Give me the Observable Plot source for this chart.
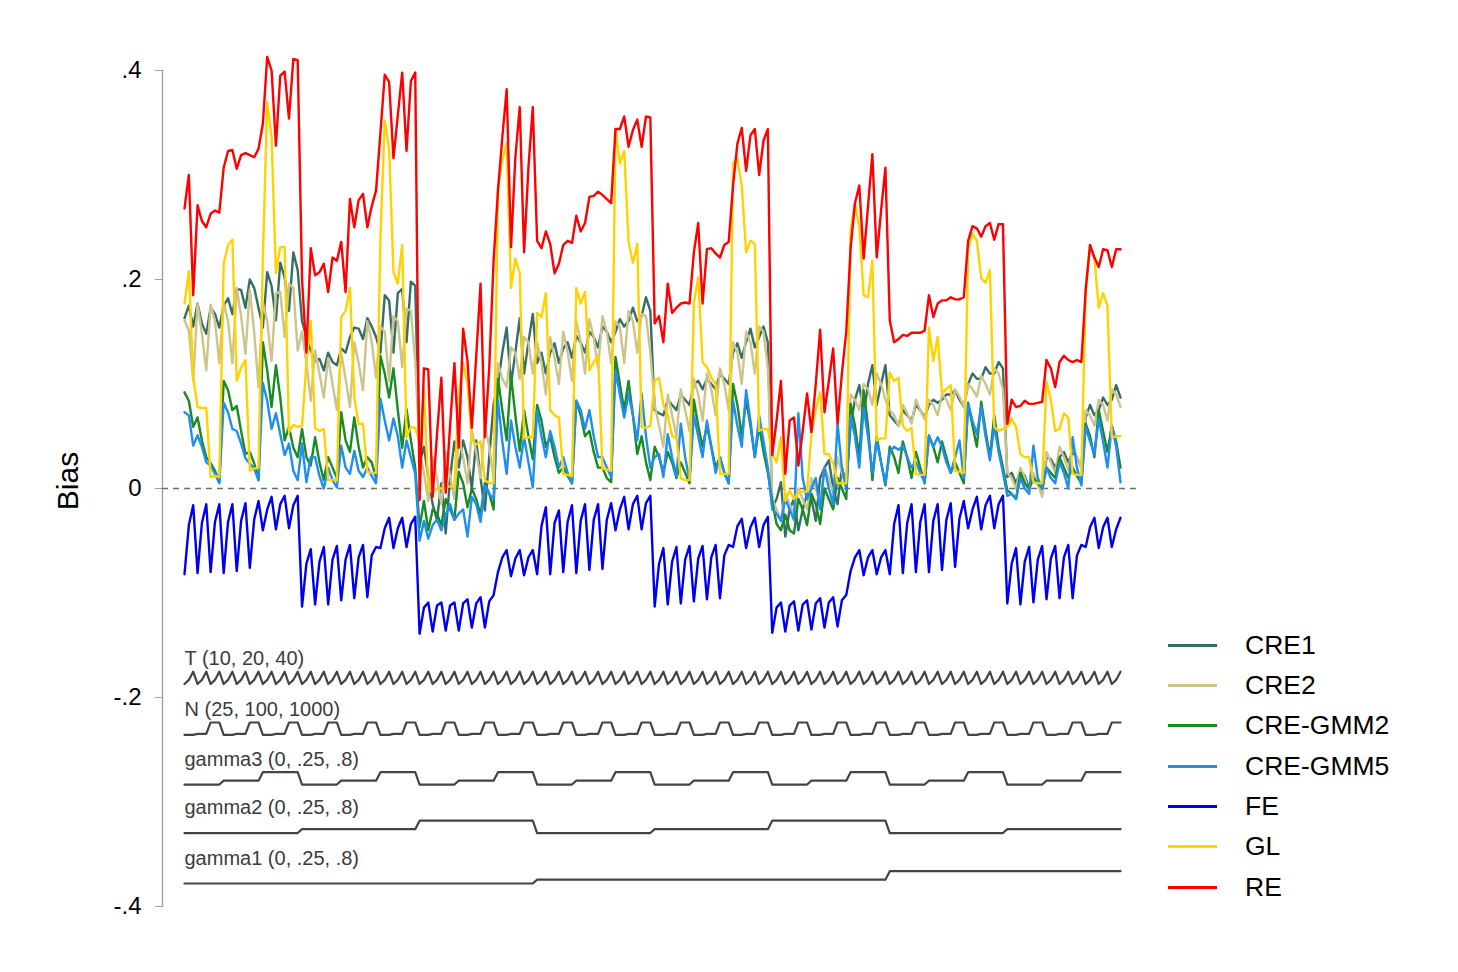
<!DOCTYPE html>
<html>
<head>
<meta charset="utf-8">
<script src="https://cdn.jsdelivr.net/npm/d3@7"></script>
<script src="https://cdn.jsdelivr.net/npm/@observablehq/plot@0.6"></script>
<style>
  body { margin: 0; background: #fff; font-family: "Liberation Sans", Arial, sans-serif; }
  #wrap { position: relative; width: 1458px; height: 972px; }
  .leg { position: absolute; left: 1168px; width: 300px; height: 30px; display: flex; align-items: center; }
  .leg .sw { width: 49px; height: 3px; }
  .leg .lb { margin-left: 28px; font-size: 26.5px; color: #000; }
  #ylab { position: absolute; left: 68px; top: 481px; transform: translate(-50%, -50%) rotate(-90deg);
          font-size: 30px; color: #000; white-space: nowrap; }
</style>
</head>
<body>
<div id="wrap"><div id="ylab">Bias</div></div>
<script>
// ---------- data ----------
const seriesNames = ["CRE1", "CRE2", "CRE-GMM2", "CRE-GMM5", "FE", "GL", "RE"];
const seriesColors = ["#356e66", "#cbc48b", "#1a8a22", "#1e8ef0", "#0000f0", "#ffd200", "#ff0000"];

const cre1 = [
 0.163,0.175,0.155, 0.177,0.158,0.148, 0.173,0.167,0.154, 0.175,0.182,0.167, 0.191,0.190,0.173, 0.200,0.192,0.173, 0.154,0.207,0.194, 0.161,0.216,0.202, 0.170,0.226,0.209,
 0.160,0.145,0.132, 0.122,0.124,0.113, 0.130,0.121,0.118, 0.134,0.130,0.145, 0.154,0.153,0.143, 0.163,0.155,0.145, 0.130,0.185,0.180, 0.130,0.187,0.191, 0.140,0.198,0.194,
 0.025,0.040,0.010, -0.015,-0.030,0.005, -0.043,0.010,0.045, 0.020,0.046,0.030, 0.000,0.046,0.010, -0.021,0.030,0.081, 0.100,0.130,0.154, 0.100,0.130,0.163, 0.110,0.140,0.167,
 0.120,0.130,0.110, 0.130,0.139,0.120, 0.134,0.140,0.125, 0.146,0.140,0.130, 0.150,0.145,0.135, 0.155,0.150,0.140, 0.150,0.162,0.155, 0.160,0.173,0.160, 0.165,0.183,0.170,
 0.075,0.072,0.070, 0.085,0.080,0.075, 0.090,0.085,0.080, 0.100,0.103,0.095, 0.105,0.100,0.095, 0.110,0.105,0.100, 0.130,0.139,0.125, 0.140,0.153,0.135, 0.145,0.155,0.140,
 -0.018,-0.010,0.006, -0.046,-0.020,-0.010, -0.040,-0.020,-0.005, -0.010,-0.031,0.010, 0.020,0.027,0.000, -0.015,0.020,0.005, 0.060,0.085,0.099, 0.070,0.100,0.118, 0.080,0.100,0.118,
 0.070,0.065,0.060, 0.075,0.070,0.065, 0.080,0.075,0.068, 0.080,0.085,0.082, 0.085,0.090,0.090, 0.094,0.085,0.078, 0.100,0.110,0.105, 0.105,0.116,0.110, 0.110,0.121,0.115,
 0.011,0.015,0.005, 0.017,0.012,0.000, 0.010,0.005,-0.005, 0.030,0.028,0.020, 0.030,0.035,0.025, 0.035,0.030,0.020, 0.068,0.080,0.070, 0.075,0.087,0.080, 0.085,0.099,0.087
];

const cre2 = [
 0.161,0.151,0.103, 0.177,0.148,0.113, 0.176,0.160,0.120, 0.178,0.160,0.120, 0.192,0.165,0.129, 0.190,0.150,0.097, 0.178,0.160,0.122, 0.187,0.188,0.145, 0.196,0.192,0.132,
 0.150,0.120,0.084, 0.132,0.110,0.087, 0.125,0.100,0.075, 0.130,0.105,0.078, 0.140,0.120,0.094, 0.160,0.140,0.106, 0.155,0.150,0.103, 0.165,0.160,0.116, 0.172,0.170,0.122,
 0.035,0.015,-0.012, 0.030,0.010,-0.015, 0.035,0.012,-0.010, 0.050,0.030,0.005, 0.055,0.035,0.010, 0.060,0.040,0.010, 0.120,0.105,0.097, 0.135,0.130,0.105, 0.145,0.140,0.110,
 0.140,0.120,0.090, 0.145,0.125,0.100, 0.150,0.130,0.103, 0.160,0.140,0.110, 0.162,0.145,0.115, 0.165,0.150,0.120, 0.160,0.155,0.120, 0.170,0.160,0.130, 0.167,0.165,0.130,
 0.080,0.060,0.040, 0.090,0.070,0.050, 0.095,0.075,0.055, 0.105,0.090,0.065, 0.110,0.095,0.070, 0.115,0.100,0.075, 0.140,0.130,0.100, 0.150,0.140,0.110, 0.155,0.150,0.115,
 -0.010,-0.020,-0.030, -0.005,-0.015,-0.025, 0.000,-0.010,-0.020, 0.010,0.000,-0.015, 0.020,0.010,-0.005, 0.030,0.015,0.000, 0.090,0.085,0.075, 0.100,0.095,0.080, 0.110,0.100,0.085,
 0.075,0.070,0.060, 0.080,0.072,0.062, 0.085,0.075,0.066, 0.085,0.080,0.070, 0.090,0.085,0.075, 0.095,0.088,0.078, 0.100,0.095,0.088, 0.108,0.100,0.090, 0.115,0.110,0.095,
 0.015,0.010,0.000, 0.020,0.010,-0.005, 0.015,0.005,-0.008, 0.035,0.025,0.015, 0.040,0.030,0.018, 0.040,0.030,0.020, 0.075,0.070,0.060, 0.085,0.080,0.065, 0.095,0.090,0.078
];

const creGmm2 = [
 0.092,0.084,0.059, 0.068,0.046,0.030, 0.024,0.017,0.006, 0.103,0.094,0.075, 0.079,0.055,0.033, 0.035,0.024,0.008, 0.140,0.113,0.078, 0.118,0.087,0.046, 0.059,0.039,0.030,
 0.057,0.030,0.022, 0.049,0.025,0.008, 0.030,0.020,0.010, 0.073,0.046,0.035, 0.068,0.040,0.020, 0.030,0.025,0.010, 0.127,0.110,0.087, 0.115,0.075,0.039, 0.076,0.046,0.020,
 -0.037,-0.012,-0.040, -0.020,-0.024,-0.035, -0.010,-0.020,-0.030, 0.016,0.005,-0.018, 0.000,-0.010,-0.025, 0.005,-0.005,-0.020, 0.105,0.075,0.046, 0.108,0.070,0.036, 0.075,0.050,0.028,
 0.080,0.065,0.040, 0.050,0.030,0.015, 0.020,0.012,0.005, 0.084,0.070,0.050, 0.055,0.035,0.020, 0.020,0.010,0.006, 0.126,0.100,0.075, 0.103,0.070,0.033, 0.050,0.025,0.008,
 0.040,0.030,0.015, 0.035,0.025,0.010, 0.025,0.015,0.005, 0.085,0.060,0.040, 0.060,0.040,0.020, 0.030,0.015,0.005, 0.100,0.080,0.050, 0.085,0.060,0.030, 0.060,0.035,0.015,
 -0.012,-0.034,-0.040, -0.025,-0.040,-0.043, -0.010,-0.020,-0.035, -0.005,-0.015,-0.034, 0.000,-0.010,-0.020, 0.010,0.000,-0.010, 0.081,0.060,0.030, 0.094,0.060,0.008, 0.050,0.025,0.003,
 0.040,0.030,0.015, 0.045,0.030,0.010, 0.035,0.020,0.005, 0.050,0.040,0.025, 0.045,0.030,0.015, 0.025,0.015,0.005, 0.082,0.060,0.040, 0.083,0.055,0.030, 0.070,0.040,0.020,
 -0.002,-0.005,-0.010, 0.015,0.005,0.000, 0.010,0.005,0.000, 0.020,0.015,0.010, 0.030,0.020,0.010, 0.020,0.012,0.005, 0.062,0.050,0.030, 0.075,0.055,0.035, 0.060,0.045,0.020
];

const creGmm5 = [
 0.073,0.070,0.041, 0.051,0.040,0.025, 0.022,0.014,0.005, 0.082,0.073,0.057, 0.055,0.043,0.029, 0.024,0.019,0.008, 0.101,0.084,0.057, 0.072,0.052,0.032, 0.043,0.017,0.008,
 0.043,0.006,0.030, 0.030,0.012,0.000, 0.020,0.008,0.001, 0.041,0.020,0.014, 0.036,0.017,0.011, 0.020,0.012,0.005, 0.086,0.065,0.046, 0.067,0.050,0.020, 0.046,0.030,0.014,
 -0.050,-0.031,-0.048, -0.035,-0.030,-0.040, -0.025,-0.015,-0.030, -0.024,-0.020,-0.046, -0.008,-0.015,-0.032, 0.003,-0.005,-0.010, 0.084,0.045,0.014, 0.065,0.040,0.020, 0.049,0.025,0.001,
 0.075,0.050,0.030, 0.055,0.040,0.020, 0.030,0.015,0.005, 0.084,0.075,0.057, 0.075,0.050,0.030, 0.030,0.020,0.011, 0.113,0.090,0.068, 0.091,0.070,0.046, 0.091,0.050,0.020,
 0.030,0.033,0.011, 0.052,0.030,0.012, 0.062,0.030,0.008, 0.070,0.050,0.030, 0.065,0.040,0.015, 0.030,0.015,0.005, 0.084,0.060,0.040, 0.094,0.065,0.030, 0.070,0.045,0.020,
 -0.020,-0.024,-0.031, -0.010,-0.020,-0.030, 0.072,0.010,-0.010, 0.000,0.010,-0.020, 0.020,0.000,-0.015, 0.062,0.020,0.000, 0.070,0.050,0.020, 0.077,0.050,0.015, 0.045,0.025,0.005,
 0.035,0.040,0.037, 0.041,0.030,0.020, 0.025,0.015,0.006, 0.051,0.040,0.049, 0.040,0.025,0.015, 0.030,0.046,0.010, 0.081,0.065,0.052, 0.078,0.050,0.027, 0.060,0.035,0.015,
 -0.007,-0.005,-0.010, 0.010,0.000,-0.005, 0.041,0.010,0.000, 0.020,0.010,0.005, 0.025,0.015,0.000, 0.049,0.020,0.003, 0.059,0.045,0.033, 0.067,0.045,0.020, 0.060,0.040,0.006
];

const fe = [
 -0.082,-0.035,-0.016, -0.081,-0.033,-0.015, -0.080,-0.032,-0.015, -0.081,-0.032,-0.015, -0.079,-0.031,-0.014, -0.076,-0.030,-0.012, -0.040,-0.020,-0.008, -0.039,-0.015,-0.007, -0.038,-0.016,-0.007,
 -0.113,-0.072,-0.058, -0.111,-0.070,-0.056, -0.111,-0.068,-0.055, -0.107,-0.068,-0.054, -0.105,-0.066,-0.054, -0.104,-0.064,-0.056, -0.057,-0.038,-0.028, -0.057,-0.038,-0.028, -0.056,-0.034,-0.027,
 -0.139,-0.114,-0.109, -0.137,-0.112,-0.109, -0.136,-0.112,-0.109, -0.136,-0.110,-0.106, -0.133,-0.110,-0.104, -0.133,-0.108,-0.102, -0.080,-0.066,-0.059, -0.084,-0.067,-0.059, -0.083,-0.066,-0.059,
 -0.082,-0.036,-0.018, -0.082,-0.033,-0.021, -0.080,-0.032,-0.016, -0.081,-0.031,-0.015, -0.078,-0.030,-0.015, -0.077,-0.030,-0.014, -0.040,-0.020,-0.008, -0.039,-0.015,-0.007, -0.039,-0.014,-0.007,
 -0.113,-0.072,-0.057, -0.111,-0.070,-0.056, -0.110,-0.068,-0.055, -0.108,-0.067,-0.055, -0.106,-0.066,-0.054, -0.105,-0.064,-0.054, -0.056,-0.036,-0.029, -0.057,-0.037,-0.028, -0.056,-0.035,-0.027,
 -0.138,-0.114,-0.109, -0.137,-0.112,-0.108, -0.136,-0.111,-0.107, -0.135,-0.110,-0.105, -0.133,-0.109,-0.104, -0.132,-0.107,-0.102, -0.079,-0.066,-0.059, -0.083,-0.066,-0.059, -0.082,-0.066,-0.059,
 -0.082,-0.034,-0.016, -0.081,-0.033,-0.015, -0.080,-0.032,-0.015, -0.080,-0.031,-0.015, -0.078,-0.030,-0.014, -0.075,-0.029,-0.012, -0.038,-0.020,-0.008, -0.039,-0.016,-0.007, -0.038,-0.015,-0.007,
 -0.110,-0.072,-0.057, -0.111,-0.070,-0.056, -0.109,-0.068,-0.055, -0.106,-0.067,-0.055, -0.105,-0.066,-0.054, -0.105,-0.064,-0.054, -0.056,-0.037,-0.028, -0.057,-0.037,-0.028, -0.056,-0.039,-0.028
];

const gl = [
 0.177,0.208,0.106, 0.078,0.077,0.077, 0.011,0.012,0.011, 0.215,0.233,0.238, 0.103,0.116,0.123, 0.017,0.019,0.020, 0.220,0.370,0.336, 0.206,0.231,0.231, 0.054,0.061,0.059,
 0.060,0.120,0.160, 0.058,0.055,0.057, 0.008,0.008,0.008, 0.164,0.170,0.192, 0.087,0.062,0.062, 0.016,0.015,0.015, 0.240,0.352,0.325, 0.207,0.196,0.233, 0.049,0.059,0.058,
 0.045,0.094,0.000, -0.003,0.000,0.000, 0.001,0.002,0.003, 0.090,0.120,0.100, 0.046,0.042,0.045, 0.008,0.005,0.005, 0.288,0.314,0.331, 0.192,0.220,0.206, 0.048,0.049,0.049,
 0.168,0.164,0.187, 0.075,0.070,0.068, 0.014,0.013,0.012, 0.192,0.177,0.188, 0.113,0.121,0.127, 0.019,0.018,0.017, 0.344,0.311,0.323, 0.236,0.216,0.234, 0.059,0.058,0.060,
 0.103,0.106,0.080, 0.070,0.050,0.049, 0.010,0.008,0.008, 0.177,0.202,0.121, 0.116,0.106,0.100, 0.014,0.014,0.014, 0.311,0.316,0.290, 0.226,0.237,0.234, 0.055,0.057,0.057,
 0.033,0.025,0.049, -0.012,-0.002,-0.010, -0.003,-0.003,-0.003, 0.052,0.075,0.092, 0.033,0.033,0.024, 0.005,0.005,0.005, 0.247,0.273,0.250, 0.185,0.183,0.218, 0.046,0.048,0.048,
 0.111,0.103,0.106, 0.060,0.055,0.058, 0.014,0.013,0.013, 0.154,0.122,0.145, 0.091,0.095,0.099, 0.017,0.016,0.015, 0.230,0.244,0.237, 0.201,0.197,0.209, 0.059,0.055,0.057,
 0.059,0.067,0.059, 0.033,0.030,0.030, 0.006,0.005,0.005, 0.102,0.085,0.055, 0.057,0.072,0.068, 0.014,0.013,0.013, 0.190,0.233,0.220, 0.173,0.187,0.175, 0.049,0.050,0.050
];

const re = [
 0.268,0.300,0.185, 0.271,0.256,0.250, 0.263,0.266,0.264, 0.307,0.323,0.324, 0.306,0.319,0.321, 0.319,0.317,0.325, 0.349,0.413,0.400, 0.328,0.395,0.399, 0.354,0.411,0.410,
 0.200,0.130,0.230, 0.204,0.207,0.215, 0.188,0.221,0.218, 0.236,0.188,0.277, 0.250,0.276,0.282, 0.250,0.270,0.285, 0.340,0.396,0.389, 0.316,0.357,0.398, 0.323,0.390,0.398,
 -0.011,0.115,0.114, -0.008,0.052,0.106, -0.004,0.060,0.120, 0.039,0.153,0.122, 0.058,0.126,0.196, 0.049,0.116,0.218, 0.285,0.336,0.382, 0.231,0.317,0.365, 0.226,0.307,0.365,
 0.237,0.230,0.246, 0.234,0.206,0.215, 0.233,0.237,0.235, 0.261,0.246,0.254, 0.279,0.280,0.284, 0.281,0.277,0.273, 0.344,0.344,0.356, 0.327,0.343,0.353, 0.327,0.356,0.355,
 0.158,0.165,0.140, 0.196,0.168,0.173, 0.177,0.178,0.177, 0.226,0.254,0.177, 0.229,0.230,0.225, 0.221,0.233,0.236, 0.290,0.330,0.345, 0.304,0.338,0.344, 0.300,0.333,0.344,
 0.032,0.065,0.103, 0.014,0.065,0.068, 0.022,0.055,0.091, 0.054,0.100,0.152, 0.073,0.103,0.134, 0.062,0.110,0.150, 0.230,0.273,0.290, 0.220,0.270,0.320, 0.221,0.266,0.307,
 0.161,0.140,0.143, 0.147,0.146,0.149, 0.149,0.149,0.151, 0.185,0.164,0.177, 0.180,0.180,0.183, 0.181,0.181,0.183, 0.237,0.251,0.249, 0.241,0.251,0.254, 0.238,0.253,0.253,
 0.062,0.085,0.078, 0.079,0.084,0.081, 0.081,0.082,0.083, 0.123,0.115,0.097, 0.121,0.127,0.123, 0.121,0.123,0.121, 0.190,0.233,0.221, 0.212,0.229,0.228, 0.212,0.229,0.229
];

// design factors (nested loop order: gamma1 > gamma2 > gamma3 > N > T)
const tLevels = [10, 20, 40];
const nLevels = [25, 100, 1000];
const gammaLevels = [0, 0.25, 0.8];
const gamma1ByBlock = [0, 0, 0, 0.25, 0.25, 0.25, 0.8, 0.8];
const gamma2ByBlock = [0, 0.25, 0.8, 0, 0.25, 0.8, 0, 0.25];
const designLabels = ["T (10, 20, 40)", "N (25, 100, 1000)", "gamma3 (0, .25, .8)", "gamma2 (0, .25, .8)", "gamma1 (0, .25, .8)"];

const yTicks = [-0.4, -0.2, 0, 0.2, 0.4];
const yTickLabels = ["-.4", "-.2", "0", ".2", ".4"];

// ---------- build tables ----------
const seriesValues = [cre1, cre2, creGmm2, creGmm5, fe, gl, re];
const rows = [];
seriesNames.forEach((s, k) => seriesValues[k].forEach((v, i) => rows.push({series: s, i, value: v})));

const nPts = re.length;
const design = [];
for (let i = 0; i < nPts; i++) {
  const b = Math.floor(i / 27), j = i % 27;
  design.push({
    i,
    T: tLevels[j % 3],
    N: nLevels[Math.floor(j / 3) % 3],
    gamma3: gammaLevels[Math.floor(j / 9)],
    gamma2: gamma2ByBlock[b],
    gamma1: gamma1ByBlock[b]
  });
}
// layout of the design-step lines (in y units)
const stepBase = [-0.1871, -0.2357, -0.2833, -0.3297, -0.378];
const stepHeight = 0.0118;
const factorKeys = ["T", "N", "gamma3", "gamma2", "gamma1"];
const factorLevels = [tLevels, nLevels, gammaLevels, gammaLevels, gammaLevels];
const stepRows = [];
factorKeys.forEach((key, f) => {
  const lv = factorLevels[f], lo = d3.min(lv), hi = d3.max(lv);
  design.forEach(d => stepRows.push({factor: key, i: d.i, y: stepBase[f] + (d[key] - lo) / (hi - lo) * stepHeight}));
});
const labelRows = factorKeys.map((key, f) => ({label: designLabels[f], i: 0, y: stepBase[f]}));

const font = "'Liberation Sans', Arial, sans-serif";

const chart = Plot.plot({
  width: 1458,
  height: 972,
  marginLeft: 162,
  marginRight: 318,
  marginTop: 70,
  marginBottom: 66,
  style: {fontFamily: font, background: "white", overflow: "visible"},
  x: {domain: [-5.053, 219.59], axis: null},
  y: {domain: [-0.4, 0.4], axis: null},
  color: {domain: seriesNames, range: seriesColors},
  marks: [
    Plot.frame({anchor: "left", stroke: "#a0a0a0", strokeWidth: 1.4}),
    Plot.axisY({ticks: yTicks, tickFormat: d => yTickLabels[yTicks.indexOf(d)], tickSize: 7, tickPadding: 14,
                fontSize: 24, stroke: "#a0a0a0", fill: "#000", label: null}),
    Plot.ruleY([0], {stroke: "#6e6e6e", strokeWidth: 1.6, strokeDasharray: "6,5"}),
    Plot.line(rows, {x: "i", y: "value", z: "series", stroke: "series", strokeWidth: 2.4}),
    Plot.line(stepRows, {x: "i", y: "y", z: "factor", stroke: "#444", strokeWidth: 2.2}),
    Plot.text(labelRows, {x: "i", y: "y", text: "label", textAnchor: "start", lineAnchor: "middle", dy: -25,
                          fontSize: 20, fill: "#3c3c3c"})
  ]
});

const wrap = document.getElementById("wrap");
wrap.insertBefore(chart, wrap.firstChild);

// legend
const legTop = [645, 685.3, 725.6, 766, 806.3, 846.6, 887];
seriesNames.forEach((s, k) => {
  const row = document.createElement("div");
  row.className = "leg";
  row.style.top = (legTop[k] - 15) + "px";
  const sw = document.createElement("div");
  sw.className = "sw";
  sw.style.background = seriesColors[k];
  const lb = document.createElement("span");
  lb.className = "lb";
  lb.textContent = s;
  row.appendChild(sw);
  row.appendChild(lb);
  wrap.appendChild(row);
});
</script>
</body>
</html>
